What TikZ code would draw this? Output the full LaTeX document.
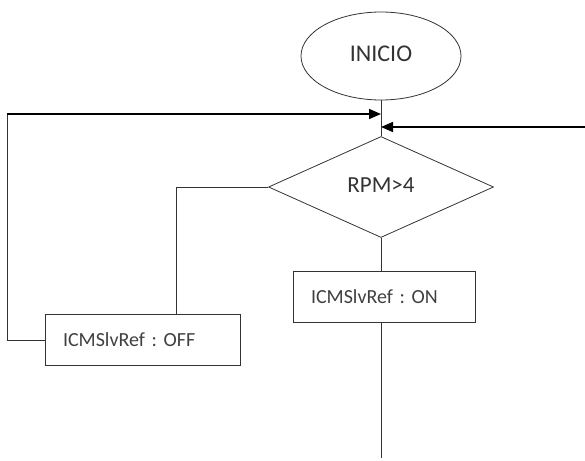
\documentclass[tikz,border=0pt]{standalone}
\usepackage{fontspec}
\setmainfont{Carlito}
\frenchspacing
\usetikzlibrary{shapes.geometric,arrows.meta}
\tikzset{
  terminal/.style={
    ellipse,
    draw=black!80,
    line width=0.8pt,
    minimum width=160pt,
    minimum height=88pt,
    inner sep=0pt,
    text=black!80,
    font=\fontsize{24}{28}\selectfont,
  },
  decision/.style={
    diamond,
    draw=black!80,
    line width=0.8pt,
    minimum width=225pt,
    minimum height=101pt,
    inner sep=0pt,
    text=black!80,
    font=\fontsize{23}{27}\selectfont,
  },
  process/.style={
    rectangle,
    draw=black!80,
    line width=0.8pt,
    minimum height=51pt,
    inner xsep=18pt,
    align=left,
    text=black!75,
    font=\fontsize{20}{24}\selectfont,
  },
  flow/.style={draw=black!80, line width=0.9pt},
  entry/.style={draw=black, line width=1.6pt, -{Triangle[length=12pt,width=10pt]}},
}

\begin{document}
\begin{tikzpicture}[x=1pt, y=-1pt]
    \useasboundingbox (0, 0) rectangle (585, 460);

    % Shapes
    \node[terminal] (start) at (381, 56) {\raisebox{4pt}{INICIO}};
    \node[decision] (cond) at (381, 187) {\raisebox{3pt}{RPM>4}};
    \node[process, text width=146pt] (on) at (384, 296.5) {ICMSlvRef : ON};
    \node[process, text width=159pt] (off) at (142.5, 340) {ICMSlvRef : OFF};

    % Free ends
    \coordinate (joinL) at (381, 114);
    \coordinate (joinR) at (381, 127);
    \coordinate (rightin) at (585, 127);
    \coordinate (loopcorner) at (7, 114);
    \coordinate (offin) at (176, 314);
    \coordinate (stop) at (381, 458);

    % Main flow
    \draw[flow] (start) -- (cond);
    \draw[flow] (cond) -- (on.north -| cond);
    \draw[flow] (on.south -| cond) -- (stop);
    \draw[flow] (cond.west) -| (offin);

    % Loop back and entry arrows
    \draw[flow] (off.west) -| (loopcorner);
    \draw[entry] (loopcorner) -- (joinL);
    \draw[entry] (rightin) -- (joinR);
\end{tikzpicture}
\end{document}
